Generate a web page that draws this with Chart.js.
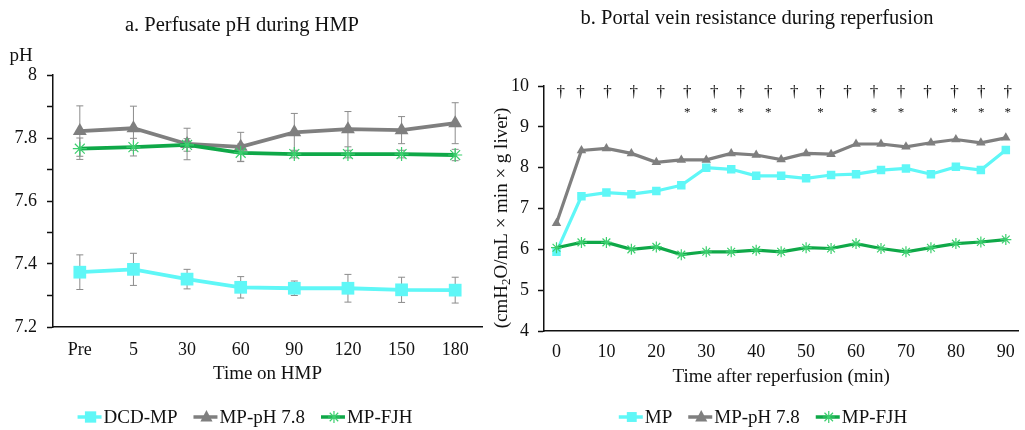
<!DOCTYPE html>
<html>
<head>
<meta charset="utf-8">
<script src="https://cdn.jsdelivr.net/npm/chart.js@4.4.0/dist/chart.umd.min.js"></script>
<style>
  body { margin: 0; background: #fff; width: 1025px; height: 430px; overflow: hidden; position: relative; }
  #wa { position: absolute; left: 0; top: 0; width: 505px; height: 430px; }
  #wb { position: absolute; left: 490px; top: 0; width: 535px; height: 430px; }
</style>
</head>
<body>
<div id="wa"><canvas id="ca" width="505" height="430"></canvas></div>
<div id="wb"><canvas id="cb" width="535" height="430"></canvas></div>
<script>
// a. perfusate pH during HMP
const phTimes = ['Pre', '5', '30', '60', '90', '120', '150', '180'];
const phDCD = [7.374, 7.383, 7.352, 7.326, 7.323, 7.323, 7.318, 7.317];
const phDCDsd = [0.055, 0.051, 0.031, 0.034, 0.023, 0.044, 0.040, 0.041];
const phPH78 = [7.822, 7.831, 7.781, 7.772, 7.818, 7.828, 7.825, 7.847];
const phPH78sd = [0.080, 0.070, 0.050, 0.046, 0.060, 0.056, 0.043, 0.065];
const phFJH = [7.766, 7.771, 7.778, 7.753, 7.749, 7.749, 7.749, 7.746];
const phFJHsd = [0.034, 0.028, 0.020, 0.028, 0.012, 0.012, 0.012, 0.018];

// b. portal vein resistance during reperfusion
const repTimes = ['0', '5', '10', '15', '20', '25', '30', '35', '40', '45', '50', '55', '60', '65', '70', '75', '80', '85', '90'];
const resMP = [5.94, 7.30, 7.39, 7.35, 7.43, 7.57, 8.00, 7.96, 7.80, 7.80, 7.74, 7.82, 7.84, 7.94, 7.98, 7.84, 8.02, 7.94, 8.43];
const resPH78 = [6.64, 8.42, 8.47, 8.35, 8.13, 8.19, 8.19, 8.35, 8.31, 8.20, 8.35, 8.33, 8.58, 8.58, 8.51, 8.61, 8.69, 8.61, 8.73];
const resFJH = [6.04, 6.17, 6.17, 6.00, 6.06, 5.87, 5.94, 5.94, 5.98, 5.94, 6.04, 6.02, 6.14, 6.02, 5.94, 6.04, 6.14, 6.18, 6.24];
// significance marks (minutes, as typed above the plot)
const daggerTimes = [0.85, 4.8, 10.2, 15.5, 20.9, 26.2, 31.6, 36.9, 42.4, 47.6, 52.9, 58.3, 63.6, 69.0, 74.3, 79.7, 85.1, 90.4];
const starTimes = [26.2, 31.6, 36.9, 42.4, 52.9, 63.6, 69.0, 79.7, 85.1, 90.4];

const FONT = '"Liberation Serif", "Times New Roman", serif';
const CYAN = '#5ff7f7', GRAY = '#7f7f7f', GREEN = '#0fa848', GREEN_PT = '#3ccf6e';
const AXIS = '#111';

function marker(ctx, style, x, y, r, color) {
  ctx.save();
  ctx.fillStyle = color; ctx.strokeStyle = color;
  if (style == 'rect') {
    let s = r * Math.SQRT1_2;
    ctx.fillRect(x - s, y - s, 2 * s, 2 * s);
  } else if (style == 'triangle') {
    ctx.beginPath();
    ctx.moveTo(x, y - r);
    ctx.lineTo(x + r * 0.866, y + r * 0.5 + 1);
    ctx.lineTo(x - r * 0.866, y + r * 0.5 + 1);
    ctx.closePath(); ctx.fill();
  } else {
    ctx.lineWidth = 1.2;
    ctx.beginPath();
    for (let a = 0; a < 4; a++) {
      let t = a * Math.PI / 4;
      ctx.moveTo(x - r * Math.cos(t), y - r * Math.sin(t));
      ctx.lineTo(x + r * Math.cos(t), y + r * Math.sin(t));
    }
    ctx.stroke();
  }
  ctx.restore();
}

function drawLegend(ctx, items, cx, cy) {
  ctx.font = '19px ' + FONT;
  let lineLen = 24, gap = 2, itemGap = 16;
  let total = 0;
  items.forEach((it, i) => { total += lineLen + gap + ctx.measureText(it.label).width + (i ? itemGap : 0); });
  let x = cx - total / 2;
  items.forEach((it) => {
    ctx.strokeStyle = it.color; ctx.lineWidth = 3.5;
    ctx.beginPath(); ctx.moveTo(x, cy); ctx.lineTo(x + lineLen, cy); ctx.stroke();
    marker(ctx, it.style, x + lineLen / 2 + 1, cy, it.r, it.pt);
    x += lineLen + gap;
    ctx.fillStyle = '#111'; ctx.textAlign = 'left'; ctx.textBaseline = 'middle';
    ctx.fillText(it.label, x, cy + 1);
    x += ctx.measureText(it.label).width + itemGap;
  });
}

function lineSet(label, data, color, ptColor, style, r, order) {
  return {
    label: label, data: data, borderColor: color, backgroundColor: ptColor,
    pointBackgroundColor: ptColor, pointBorderColor: ptColor, pointStyle: style,
    pointRadius: r, pointBorderWidth: style == 'star' ? 1.2 : 0,
    borderWidth: 3.8, tension: 0, order: order
  };
}

// chart a
const errBars = [phDCDsd, phPH78sd, phFJHsd];
const decoA = {
  id: 'decoA',
  beforeDatasetsDraw(chart) {
    const ctx = chart.ctx, y = chart.scales.y;
    ctx.save();
    ctx.strokeStyle = '#8c8c8c'; ctx.lineWidth = 1;
    chart.data.datasets.forEach((ds, di) => {
      const meta = chart.getDatasetMeta(di);
      meta.data.forEach((pt, i) => {
        let v = ds.data[i], sd = errBars[di][i];
        let top = y.getPixelForValue(v + sd), bot = y.getPixelForValue(v - sd);
        ctx.beginPath();
        ctx.moveTo(pt.x, top); ctx.lineTo(pt.x, bot);
        ctx.moveTo(pt.x - 3.5, top); ctx.lineTo(pt.x + 3.5, top);
        ctx.moveTo(pt.x - 3.5, bot); ctx.lineTo(pt.x + 3.5, bot);
        ctx.stroke();
      });
    });
    ctx.restore();
  },
  afterDraw(chart) {
    const ctx = chart.ctx, a = chart.chartArea;
    ctx.save();
    ctx.fillStyle = '#111'; ctx.textAlign = 'center'; ctx.textBaseline = 'middle';
    ctx.font = '20.5px ' + FONT;
    ctx.fillText('a. Perfusate pH during HMP', 242, 26);
    ctx.font = '19px ' + FONT;
    ctx.fillText('pH', 21, 56);
    ctx.fillText('Time on HMP', (a.left + a.right) / 2, 374);
    drawLegend(ctx, [
      { label: 'DCD-MP', color: CYAN, pt: CYAN, style: 'rect', r: 8 },
      { label: 'MP-pH 7.8', color: GRAY, pt: GRAY, style: 'triangle', r: 7 },
      { label: 'MP-FJH', color: GREEN, pt: GREEN_PT, style: 'star', r: 6 }
    ], 245, 417);
    ctx.restore();
  }
};

new Chart(document.getElementById('ca'), {
  type: 'line',
  data: {
    labels: phTimes,
    datasets: [
      lineSet('DCD-MP', phDCD, CYAN, CYAN, 'rect', 9, 2),
      lineSet('MP-pH 7.8', phPH78, GRAY, GRAY, 'triangle', 8, 1),
      lineSet('MP-FJH', phFJH, GREEN, GREEN_PT, 'star', 7, 0)
    ]
  },
  options: {
    responsive: false, animation: false,
    layout: { padding: { left: 0, top: 75, right: 23, bottom: 0 } },
    plugins: { legend: { display: false }, title: { display: false }, tooltip: { enabled: false } },
    scales: {
      x: {
        offset: true,
        grid: { display: false, drawTicks: false },
        border: { display: true, color: AXIS, width: 1.5 },
        ticks: { color: '#111', font: { family: FONT, size: 18 }, padding: 12, maxRotation: 0, autoSkip: false },
        afterFit: (s) => { s.height = 103; }
      },
      y: {
        min: 7.2, max: 8,
        grid: { drawOnChartArea: false, drawTicks: true, tickLength: 6, color: AXIS, tickWidth: 1.5 },
        border: { display: true, color: AXIS, width: 1.5 },
        ticks: {
          stepSize: 0.1, color: '#111', font: { family: FONT, size: 18 }, padding: 10,
          callback: (v) => Math.round(v * 10) % 2 == 0 ? String(Math.round(v * 10) / 10) : ''
        },
        afterFit: (s) => { s.width = 53; }
      }
    }
  },
  plugins: [decoA]
});

// chart b
const decoB = {
  id: 'decoB',
  afterDraw(chart) {
    const ctx = chart.ctx, a = chart.chartArea, x = chart.scales.x, y = chart.scales.y;
    ctx.save();
    ctx.fillStyle = '#111'; ctx.textAlign = 'center'; ctx.textBaseline = 'middle';
    ctx.font = '20.5px ' + FONT;
    ctx.fillText('b. Portal vein resistance during reperfusion', 267, 19);
    ctx.font = '19px ' + FONT;
    ctx.fillText('Time after reperfusion (min)', (a.left + a.right) / 2, 377);
    // dagger and star marks
    ctx.font = '17px ' + FONT;
    daggerTimes.forEach((t) => ctx.fillText('\u2020', x.getPixelForValue(t / 5), y.getPixelForValue(9.83)));
    ctx.font = '13px ' + FONT;
    starTimes.forEach((t) => ctx.fillText('*', x.getPixelForValue(t / 5), y.getPixelForValue(9.36)));
    // rotated y title with subscript 2
    ctx.translate(12, 218);
    ctx.rotate(-Math.PI / 2);
    const parts = [['(cmH', 19, 0], ['2', 13, 5], ['O/mL \u00d7 min \u00d7 g liver)', 19, 0]];
    let w = 0;
    parts.forEach((p) => { ctx.font = p[1] + 'px ' + FONT; w += ctx.measureText(p[0]).width; });
    let px = -w / 2;
    ctx.textAlign = 'left';
    parts.forEach((p) => {
      ctx.font = p[1] + 'px ' + FONT;
      ctx.fillText(p[0], px, p[2]);
      px += ctx.measureText(p[0]).width;
    });
    ctx.restore();
    ctx.save();
    drawLegend(ctx, [
      { label: 'MP', color: CYAN, pt: CYAN, style: 'rect', r: 7 },
      { label: 'MP-pH 7.8', color: GRAY, pt: GRAY, style: 'triangle', r: 7 },
      { label: 'MP-FJH', color: GREEN, pt: GREEN_PT, style: 'star', r: 6 }
    ], 273, 417);
    ctx.restore();
  }
};

const setsB = [
  lineSet('MP', resMP, CYAN, CYAN, 'rect', 6, 2),
  lineSet('MP-pH 7.8', resPH78, GRAY, GRAY, 'triangle', 5.5, 1),
  lineSet('MP-FJH', resFJH, GREEN, GREEN_PT, 'star', 5.5, 0)
];
setsB.forEach((d) => { d.borderWidth = 3.2; });

new Chart(document.getElementById('cb'), {
  type: 'line',
  data: { labels: repTimes, datasets: setsB },
  options: {
    responsive: false, animation: false,
    layout: { padding: { left: 0, top: 86, right: 0, bottom: 0 } },
    plugins: { legend: { display: false }, title: { display: false }, tooltip: { enabled: false } },
    scales: {
      x: {
        offset: true,
        grid: { display: false, drawTicks: false },
        border: { display: true, color: AXIS, width: 1.5 },
        ticks: {
          color: '#111', font: { family: FONT, size: 18 }, padding: 10, maxRotation: 0, autoSkip: false,
          callback: function (v, i) { return i % 2 == 0 ? repTimes[i] : ''; }
        },
        afterFit: (s) => { s.height = 99; }
      },
      y: {
        min: 4, max: 10,
        grid: { drawOnChartArea: false, drawTicks: true, tickLength: 6, color: AXIS, tickWidth: 1.5 },
        border: { display: true, color: AXIS, width: 1.5 },
        ticks: { stepSize: 1, color: '#111', font: { family: FONT, size: 18 }, padding: 9 },
        afterFit: (s) => { s.width = 54; }
      }
    }
  },
  plugins: [decoB]
});
</script>
</body>
</html>
